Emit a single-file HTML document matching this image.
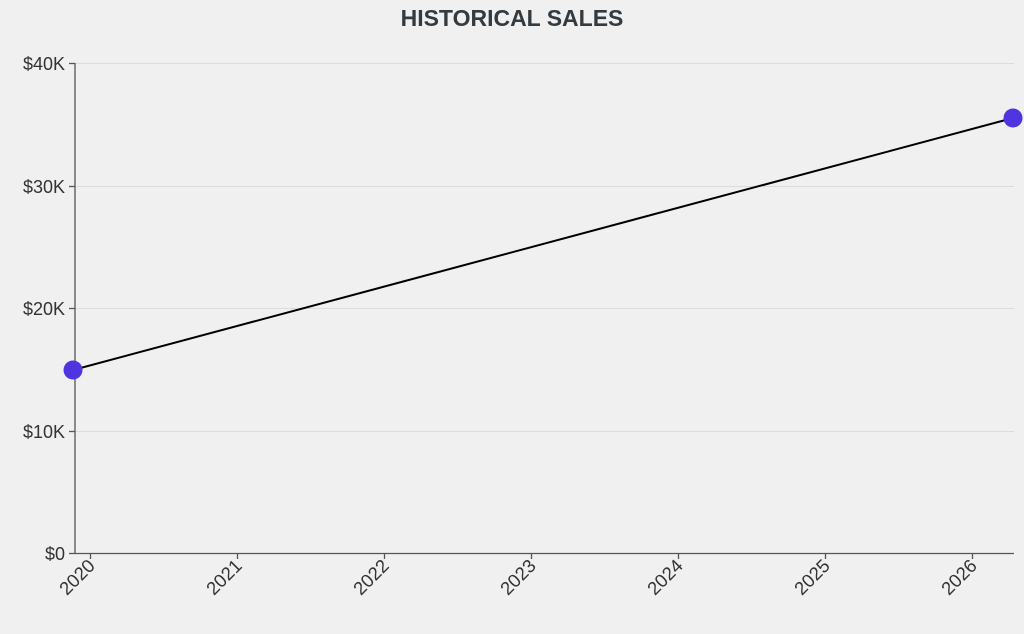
<!DOCTYPE html>
<html><head><style>
html,body{margin:0;padding:0;background:#f0f0f0;}
svg{display:block;font-family:"Liberation Sans",sans-serif;}
</style></head><body>
<svg width="1024" height="634" viewBox="0 0 1024 634">
<rect width="1024" height="634" fill="#f0f0f0"/>
<text x="512" y="26" text-anchor="middle" font-size="23" font-weight="bold" fill="#333a40">HISTORICAL SALES</text>
<g stroke="#dcdcdc" stroke-width="1">
<line x1="75" y1="63.5" x2="1014" y2="63.5"/>
<line x1="75" y1="186.5" x2="1014" y2="186.5"/>
<line x1="75" y1="308.5" x2="1014" y2="308.5"/>
<line x1="75" y1="431.5" x2="1014" y2="431.5"/>
</g>
<g stroke="#555" stroke-width="1.3">
<line x1="75" y1="63" x2="75" y2="554"/>
<line x1="75" y1="553.5" x2="1014" y2="553.5"/>
<line x1="69" y1="63.5" x2="75" y2="63.5"/>
<line x1="69" y1="186.5" x2="75" y2="186.5"/>
<line x1="69" y1="308.5" x2="75" y2="308.5"/>
<line x1="69" y1="431.5" x2="75" y2="431.5"/>
<line x1="69" y1="553.5" x2="75" y2="553.5"/>
<line x1="90.5" y1="553" x2="90.5" y2="559"/>
<line x1="237.5" y1="553" x2="237.5" y2="559"/>
<line x1="384.5" y1="553" x2="384.5" y2="559"/>
<line x1="531.5" y1="553" x2="531.5" y2="559"/>
<line x1="678.5" y1="553" x2="678.5" y2="559"/>
<line x1="825.5" y1="553" x2="825.5" y2="559"/>
<line x1="972.5" y1="553" x2="972.5" y2="559"/>
</g>
<g font-size="18" fill="#333" text-anchor="end">
<text x="65" y="70">$40K</text>
<text x="65" y="193">$30K</text>
<text x="65" y="315">$20K</text>
<text x="65" y="438">$10K</text>
<text x="65" y="560">$0</text>
</g>
<g font-size="18.5" fill="#333" text-anchor="end">
<text transform="translate(96,567) rotate(-45)">2020</text>
<text transform="translate(243,567) rotate(-45)">2021</text>
<text transform="translate(390,567) rotate(-45)">2022</text>
<text transform="translate(537,567) rotate(-45)">2023</text>
<text transform="translate(684,567) rotate(-45)">2024</text>
<text transform="translate(831,567) rotate(-45)">2025</text>
<text transform="translate(978,567) rotate(-45)">2026</text>
</g>
<line x1="73" y1="370" x2="1013" y2="118" stroke="#000" stroke-width="2"/>
<circle cx="73" cy="370" r="9.5" fill="#4f35e0"/>
<circle cx="1013" cy="118" r="9.5" fill="#4f35e0"/>
</svg>
</body></html>
